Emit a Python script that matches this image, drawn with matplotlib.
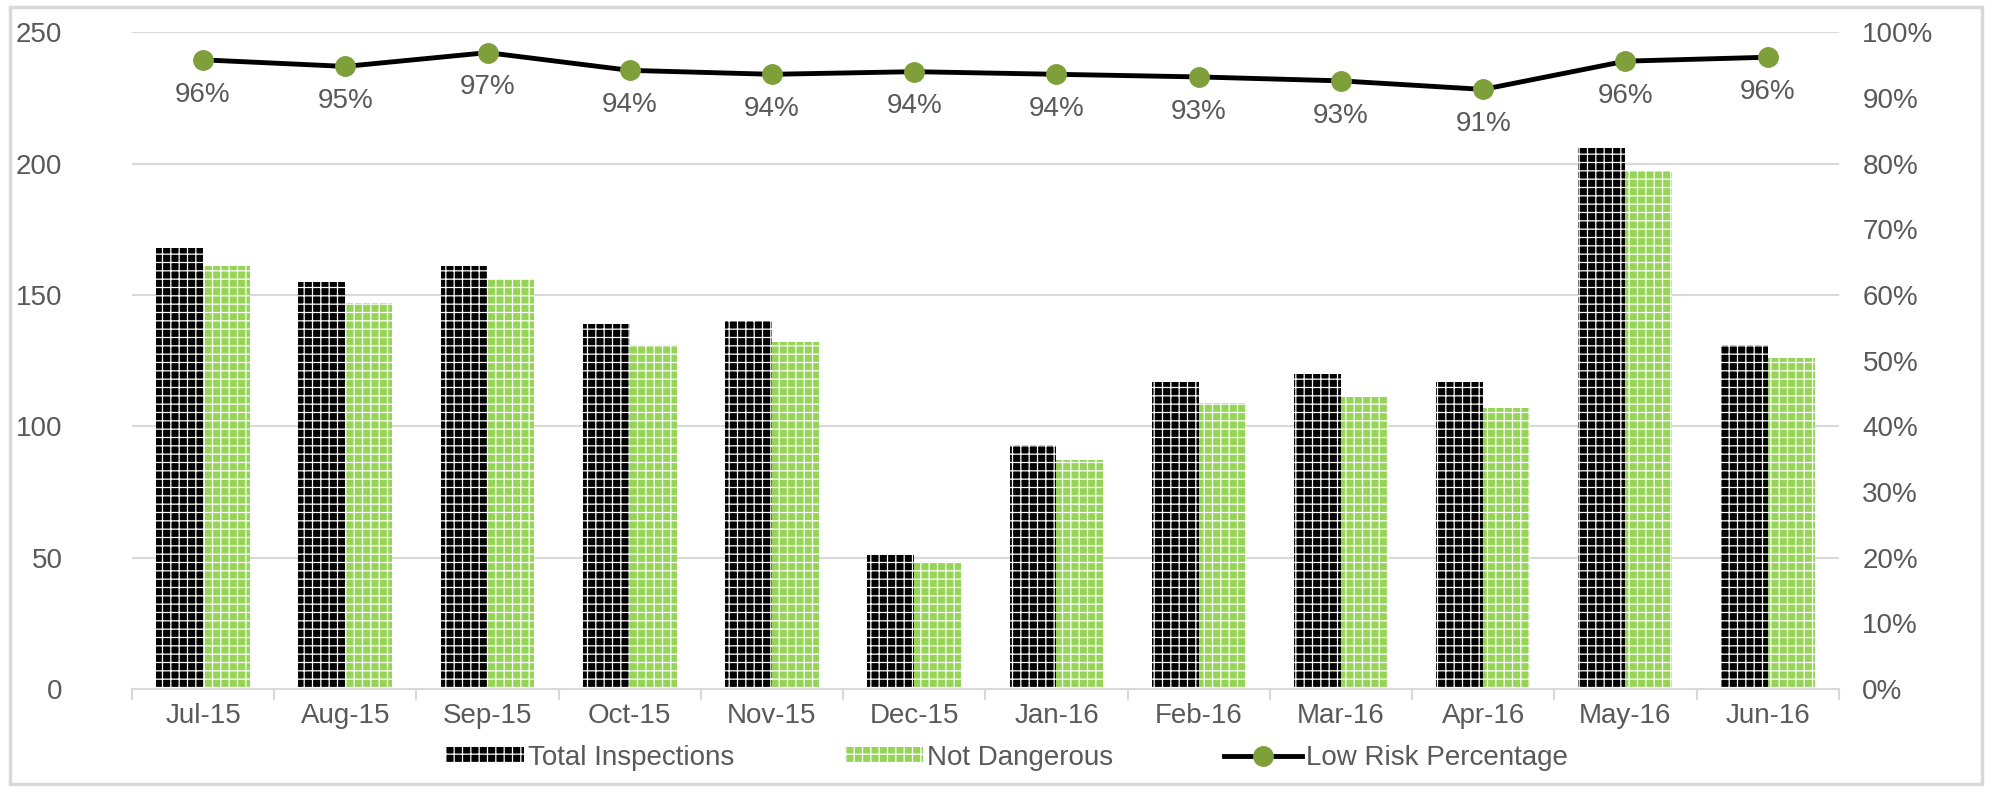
import numpy as np
import matplotlib.pyplot as plt
from matplotlib.patches import Rectangle

months = ['Jul-15', 'Aug-15', 'Sep-15', 'Oct-15', 'Nov-15', 'Dec-15',
          'Jan-16', 'Feb-16', 'Mar-16', 'Apr-16', 'May-16', 'Jun-16']
total_inspections = [168, 155, 161, 139, 140, 51, 93, 117, 120, 117, 206, 131]
not_dangerous = [161, 147, 156, 131, 132, 48, 87, 109, 111, 107, 197, 126]
low_risk_pct = [95.8, 94.8, 96.9, 94.2, 93.6, 94.0, 93.6, 93.2, 92.6, 91.3, 95.6, 96.2]

plt.rcParams['font.family'] = ['Liberation Sans', 'DejaVu Sans']
plt.rcParams['hatch.linewidth'] = 0.9
grey = '#595959'
fs = 20

fig = plt.figure(figsize=(19.9, 7.87), dpi=100)
ax = fig.add_axes([0.0663, 0.1245, 0.8577, 0.8345])
ax2 = ax.twinx()

x = np.arange(len(months))
w = 0.33
ax.bar(x - w / 2, total_inspections, w, color='black', edgecolor='white',
       hatch='++', linewidth=0, label='Total Inspections', zorder=2)
ax.bar(x + w / 2, not_dangerous, w, color='#96D458', edgecolor='white',
       hatch='++', linewidth=0, label='Not Dangerous', zorder=2)

ax.set_ylim(0, 250)
ax.set_yticks(range(0, 251, 50))
ax.set_xlim(-0.5, len(months) - 0.5)
ax.set_xticks(x)
ax.set_xticklabels(months)
ax.set_xticks(np.arange(-0.5, len(months)), minor=True)
ax.grid(axis='y', color='#D9D9D9', linewidth=1.5, zorder=0)
ax.set_axisbelow(True)
ax.tick_params(axis='x', which='major', length=0, labelsize=fs, labelcolor=grey, pad=10)
ax.tick_params(axis='x', which='minor', length=8, color='#D9D9D9', width=1.5)
ax.tick_params(axis='y', length=0, labelsize=fs, labelcolor=grey, pad=50)

ax2.plot(x, low_risk_pct, color='black', linewidth=3.5, marker='o', markersize=14,
         markerfacecolor='#7F9F3A', markeredgecolor='#7F9F3A', label='Low Risk Percentage',
         zorder=3)
for xi, p in zip(x, low_risk_pct):
    ax2.text(xi, p - 5.3, '%d%%' % round(p), ha='center', va='center', fontsize=fs, color=grey)
ax2.set_ylim(0, 100)
ax2.set_yticks(range(0, 101, 10))
ax2.set_yticklabels(['%d%%' % v for v in range(0, 101, 10)])
ax2.tick_params(axis='y', length=0, labelsize=fs, labelcolor=grey, pad=17)

for a in (ax, ax2):
    for s in ['top', 'left', 'right']:
        a.spines[s].set_visible(False)
ax.spines['bottom'].set_color('#D9D9D9')
ax.spines['bottom'].set_linewidth(1.5)
ax2.spines['bottom'].set_visible(False)

h1, l1 = ax.get_legend_handles_labels()
h2, l2 = ax2.get_legend_handles_labels()
fig.legend(h1 + h2, l1 + l2, loc='center', bbox_to_anchor=(0.506, 0.037), ncol=3,
           frameon=False, fontsize=fs, labelcolor=grey, handlelength=2.8,
           handleheight=0.5, columnspacing=4, handletextpad=0.15)

fig.patches.append(Rectangle((0.005, 0.004), 0.991, 0.987, transform=fig.transFigure,
                             fill=False, edgecolor='#D9D9D9', linewidth=2.5))

fig.savefig('out.png', dpi=100)
